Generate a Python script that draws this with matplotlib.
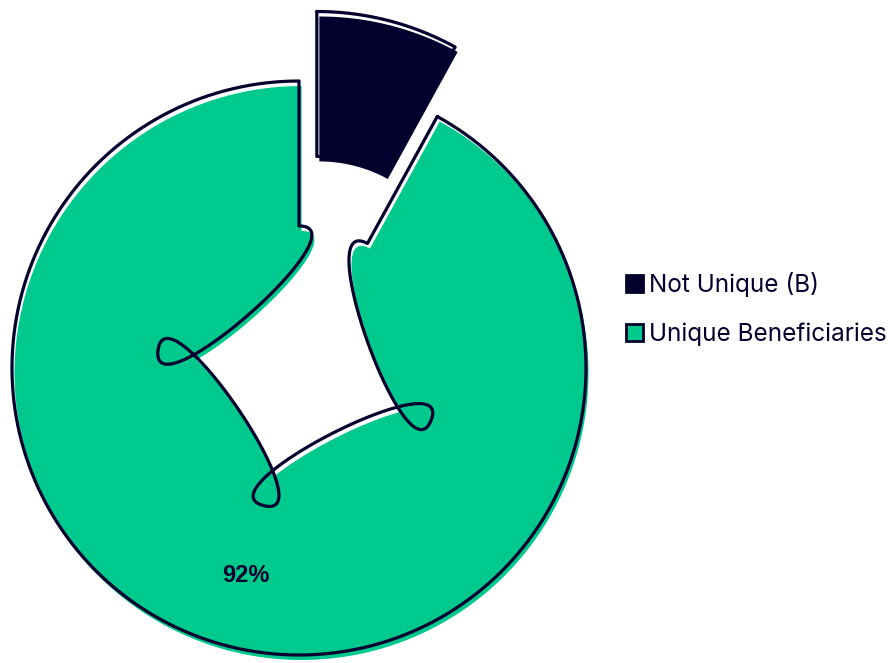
import numpy as np
import matplotlib
matplotlib.use("Agg")
import matplotlib.pyplot as plt
from matplotlib.patches import Patch

labels = ["Not Unique (B)", "Unique Beneficiaries"]
values = [8, 92]
colors = ["#03002e", "#00c98d"]
explode = [0.25, 0.0]
ink = "#03002e"

r_out = 1.0
r_in = 0.495


def arc(r, a0, a1, n=200):
    t = np.radians(np.linspace(a0, a1, n))
    return np.column_stack([r * np.cos(t), r * np.sin(t)])


def loopy_arc(r, a0, a1, nseg=4, s=0.7, n=80):
    # hand-drawn inner edge: few bezier pieces whose end tangents run backwards,
    # which gives the little loops at each joint
    ang = np.radians(np.linspace(a0, a1, nseg + 1))
    sgn = np.sign(a1 - a0)
    pts = np.column_stack([r * np.cos(ang), r * np.sin(ang)])
    tan = sgn * np.column_stack([-np.sin(ang), np.cos(ang)])
    m = -s * tan
    u = np.linspace(0, 1, n)[:, None]
    out = []
    for k in range(nseg):
        p0, p3 = pts[k], pts[k + 1]
        p1 = p0 + m[k] / 3
        p2 = p3 - m[k + 1] / 3
        b = ((1 - u) ** 3) * p0 + 3 * ((1 - u) ** 2) * u * p1 \
            + 3 * (1 - u) * u ** 2 * p2 + u ** 3 * p3
        out.append(b if k == 0 else b[1:])
    return np.vstack(out)


def wedge(a0, a1, loopy):
    outer = arc(r_out, a0, a1)
    if loopy:
        inner = loopy_arc(r_in, a1, a0)
    else:
        inner = arc(r_in, a1, a0, 60)
    return np.vstack([outer, inner, outer[:1]])


fig = plt.figure(figsize=(8.93, 6.63), dpi=100)
ax = fig.add_axes([0, 0, 1, 1])
ax.set_xlim((0 - 299) / 287, (893 - 299) / 287)
ax.set_ylim((368 - 663) / 287, (368 - 0) / 287)
ax.axis("off")

total = sum(values)
start = 90.0
fill_dx, fill_dy = 2.5 / 287, -5 / 287
for lab, val, col, ex in zip(labels, values, colors, explode):
    sweep = 360.0 * val / total
    a0, a1 = start, start - sweep
    mid = np.radians((a0 + a1) / 2)
    shift = np.array([ex * np.cos(mid), ex * np.sin(mid)])
    poly = wedge(a0, a1, loopy=(sweep > 180)) + shift
    ax.fill(poly[:, 0] + fill_dx, poly[:, 1] + fill_dy, color=col, lw=0, zorder=1)
    ax.plot(poly[:, 0], poly[:, 1], color=ink, lw=2.3, solid_joinstyle="round",
            solid_capstyle="round", zorder=2)
    if sweep > 180:
        rl = (r_in + r_out) / 2
        ax.text(rl * np.cos(mid), rl * np.sin(mid), f"{val}%", ha="center",
                va="center", fontsize=17, fontweight="bold", color=ink,
                family="Liberation Sans", zorder=3)
    start = a1

handles = [Patch(facecolor=c, edgecolor=ink, linewidth=2) for c in colors]
leg = ax.legend(handles, labels, loc="upper left",
                bbox_to_anchor=(626 / 893, 1 - 272 / 663), frameon=False,
                handlelength=0.7, handleheight=0.7, handletextpad=0.25,
                labelspacing=1.05, borderpad=0, borderaxespad=0,
                prop={"family": "Inter", "size": 17.5})
for t in leg.get_texts():
    t.set_color(ink)

fig.savefig("out.png", dpi=100)
